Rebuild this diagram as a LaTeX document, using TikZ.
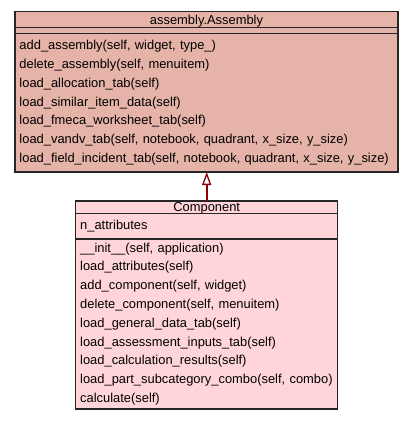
\documentclass[tikz,border=0pt]{standalone}
\usepackage{fontspec}
\setmainfont{Liberation Sans}
\usetikzlibrary{arrows.meta}
\definecolor{asmfill}{HTML}{E5B3A7}
\definecolor{cmpfill}{HTML}{FFD5D9}
\definecolor{linkred}{HTML}{8B0000}
\tikzset{
  part/.style={draw=black!85, line width=1.3pt, outer sep=0pt, inner sep=0pt,
    font=\fontsize{12.9}{18.8}\selectfont},
  titlepart/.style={part, anchor=north west, text depth=0pt},
  listpart/.style={part, anchor=north, align=left, inner xsep=4.5pt},
  inherits/.style={linkred, line width=2pt,
    -{Triangle[open, length=13pt, width=9pt, line width=1.3pt]}}
}
\begin{document}
\begin{tikzpicture}[x=1pt,y=-1pt]
\useasboundingbox (0,0) rectangle (413,421);
% classe assembly.Assembly
\node [titlepart, fill=asmfill, minimum width=383pt, minimum height=16pt] (asmtitle) at (15,11.7) {assembly.Assembly};
\node [listpart, fill=asmfill, minimum width=383pt, minimum height=6pt] (asmattr) at (asmtitle.south) {};
\node [listpart, fill=asmfill, minimum width=383pt, minimum height=138.3pt, text width=374pt] (asmmeth) at (asmattr.south) {%
add\_assembly(self, widget, type\_)\\
delete\_assembly(self, menuitem)\\
load\_allocation\_tab(self)\\
load\_similar\_item\_data(self)\\
load\_fmeca\_worksheet\_tab(self)\\
load\_vandv\_tab(self, notebook, quadrant, x\_size, y\_size)\\
load\_field\_incident\_tab(self, notebook, quadrant, x\_size, y\_size)};
% classe Component
\node [titlepart, fill=cmpfill, minimum width=262pt, minimum height=12.7pt] (cmptitle) at (75.7,201) {Component};
\node [listpart, fill=cmpfill, minimum width=262pt, minimum height=25.3pt, text width=253pt] (cmpattr) at (cmptitle.south) {n\_attributes};
\node [listpart, fill=cmpfill, minimum width=262pt, minimum height=170pt, text width=253pt] (cmpmeth) at (cmpattr.south) {%
\_\_init\_\_(self, application)\\
load\_attributes(self)\\
add\_component(self, widget)\\
delete\_component(self, menuitem)\\
load\_general\_data\_tab(self)\\
load\_assessment\_inputs\_tab(self)\\
load\_calculation\_results(self)\\
load\_part\_subcategory\_combo(self, combo)\\
calculate(self)};
% heritage
\draw [inherits] (cmptitle.north) -- (cmptitle.north |- asmmeth.south);
\end{tikzpicture}
\end{document}
